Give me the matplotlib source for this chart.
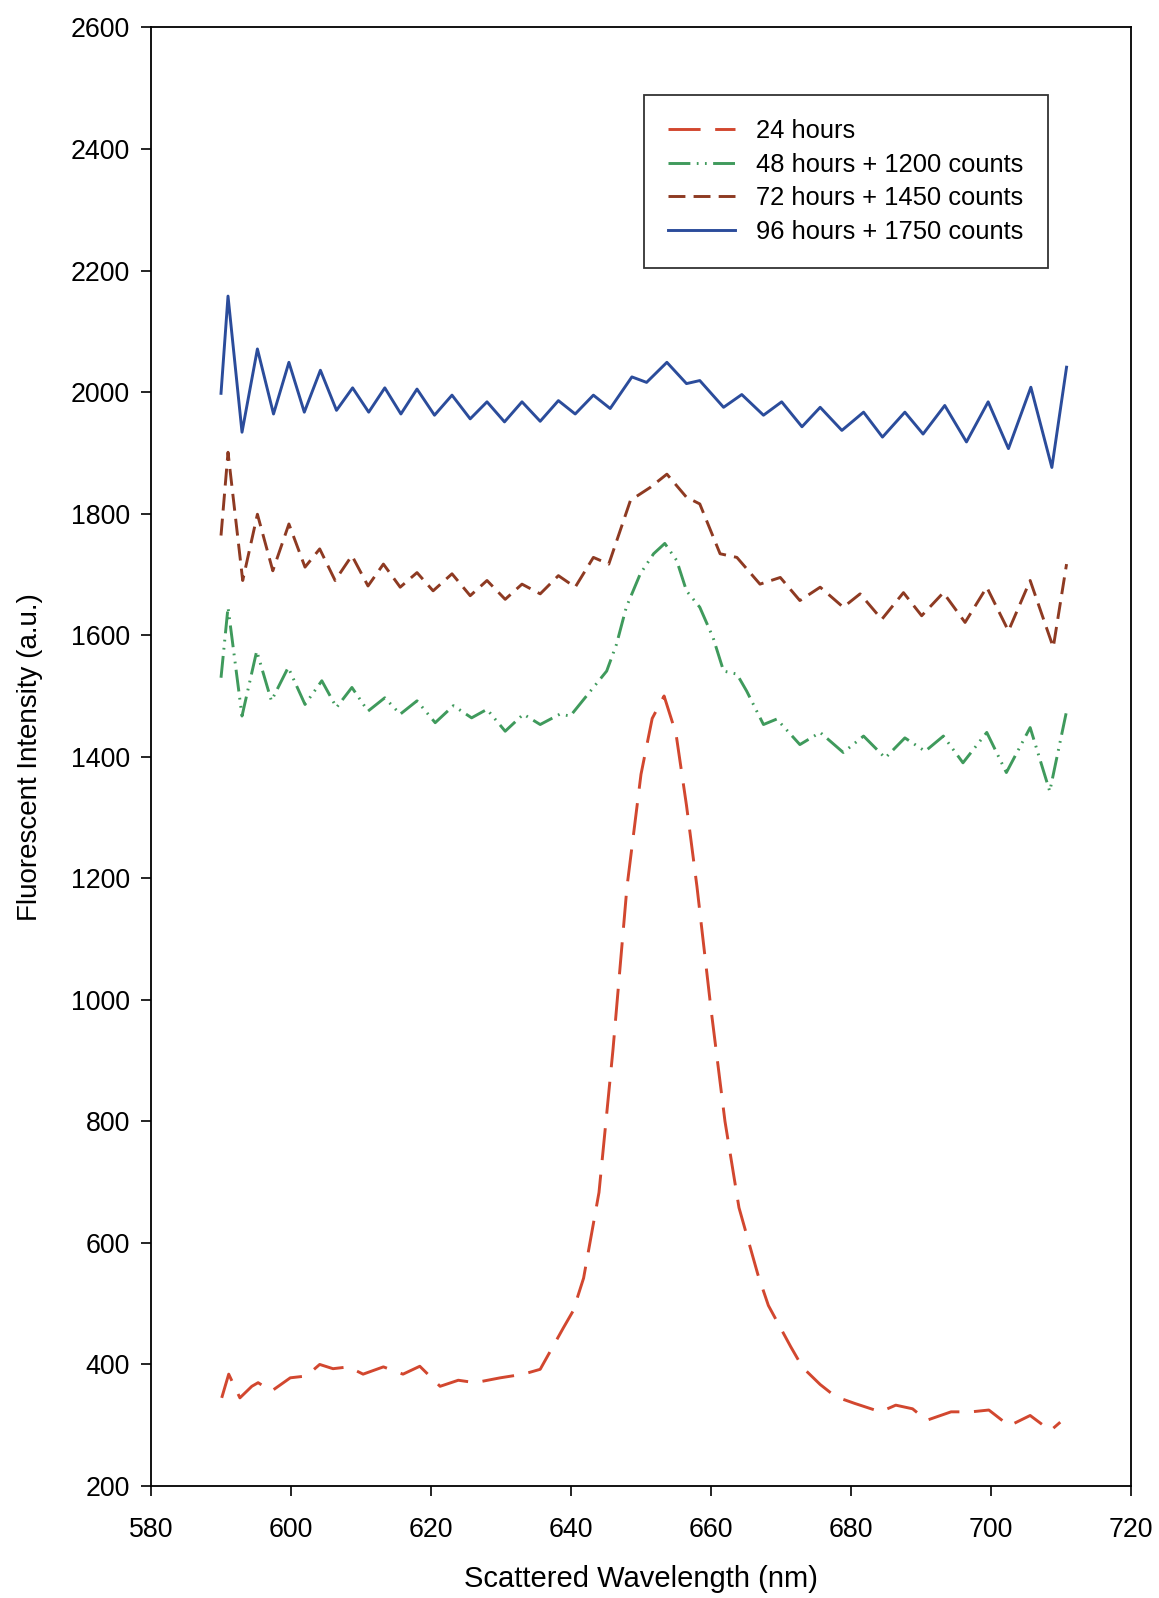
import matplotlib
matplotlib.use("Agg")
import matplotlib.pyplot as plt

plt.rcParams["font.family"] = ["Liberation Sans", "DejaVu Sans"]

# 24 hours
x_24 = [590.1, 591.1, 592.7, 594.4, 595.3, 597.2, 599.9, 602.2, 604.1, 606.0,
        608.2, 610.3, 613.2, 616.0, 618.4, 621.3, 623.9, 626.3, 629.9, 633.2,
        635.6, 638.9, 640.3, 641.8, 644.0, 646.0, 648.0, 650.0, 651.6, 653.3,
        655.0, 656.5, 658.0, 660.0, 662.0, 664.0, 666.7, 668.2, 671.4, 673.1,
        675.6, 677.8, 680.5, 684.2, 686.4, 688.8, 690.8, 694.3, 697.2, 699.7,
        702.6, 705.6, 708.5, 709.9]
y_24 = [345, 384, 345, 364, 370, 356, 378, 381, 400, 393,
        396, 384, 396, 384, 397, 364, 374, 370, 378, 384,
        392, 460, 488, 542, 683, 918, 1186, 1371, 1463, 1500,
        1438, 1320, 1186, 985, 800, 658, 548, 497, 429, 395,
        367, 347, 336, 322, 333, 327, 308, 322, 322, 325,
        299, 316, 291, 305]

# 48 hours + 1200 counts
x_48 = [590.0, 591.0, 593.0, 595.1, 597.2, 599.6, 602.0, 604.4, 606.5, 608.7,
        611.0, 613.4, 615.6, 618.0, 620.6, 623.2, 625.8, 628.0, 630.6, 633.2,
        635.6, 638.4, 639.9, 643.2, 645.1, 646.5, 647.9, 649.9, 651.8, 653.4,
        655.1, 656.5, 658.4, 660.3, 661.8, 663.7, 665.1, 667.5, 669.4, 672.7,
        675.6, 678.9, 681.8, 684.9, 687.7, 690.6, 693.2, 696.0, 699.4, 702.2,
        705.6, 708.4, 710.8]
y_48 = [1530, 1646, 1467, 1574, 1492, 1547, 1486, 1525, 1481, 1514,
        1475, 1497, 1470, 1492, 1456, 1484, 1464, 1478, 1442, 1470,
        1453, 1470, 1467, 1514, 1541, 1585, 1646, 1701, 1734, 1751,
        1723, 1673, 1646, 1596, 1541, 1536, 1508, 1453, 1462, 1420,
        1440, 1407, 1434, 1398, 1431, 1409, 1434, 1390, 1440, 1374,
        1448, 1343, 1475]

# 72 hours + 1450 counts
x_72 = [590.0, 591.0, 593.1, 595.2, 597.4, 599.7, 602.0, 604.1, 606.3, 608.7,
        611.0, 613.2, 615.6, 618.0, 620.3, 623.0, 625.6, 628.0, 630.6, 633.0,
        635.6, 638.2, 640.6, 643.2, 645.4, 648.5, 651.3, 653.7, 656.5, 658.4,
        661.3, 663.7, 667.0, 669.9, 672.7, 675.6, 678.9, 681.3, 684.4, 687.5,
        690.1, 693.2, 696.3, 699.4, 702.5, 705.6, 708.9, 710.8]
y_72 = [1764, 1901, 1690, 1799, 1706, 1783, 1712, 1742, 1690, 1731,
        1681, 1717, 1679, 1703, 1673, 1701, 1665, 1690, 1659, 1684,
        1668, 1698, 1679, 1728, 1717, 1822, 1843, 1865, 1827, 1816,
        1734, 1728, 1684, 1695, 1657, 1679, 1646, 1668, 1626, 1670,
        1632, 1670, 1621, 1679, 1607, 1690, 1580, 1717]

# 96 hours + 1750 counts
x_96 = [590.0, 591.0, 593.0, 595.2, 597.5, 599.7, 601.9, 604.2, 606.5, 608.8,
        611.1, 613.4, 615.7, 618.0, 620.5, 623.0, 625.6, 628.0, 630.5, 633.0,
        635.6, 638.2, 640.6, 643.2, 645.6, 648.7, 650.8, 653.7, 656.5, 658.4,
        661.8, 664.4, 667.5, 670.1, 673.0, 675.6, 678.7, 681.8, 684.5, 687.7,
        690.3, 693.4, 696.5, 699.6, 702.5, 705.7, 708.7, 710.8]
y_96 = [1998, 2158, 1934, 2071, 1964, 2049, 1967, 2036, 1970, 2007,
        1967, 2007, 1964, 2005, 1962, 1995, 1956, 1984, 1951, 1984,
        1952, 1986, 1964, 1995, 1973, 2025, 2016, 2049, 2014, 2019,
        1975, 1996, 1962, 1984, 1943, 1975, 1937, 1967, 1926, 1967,
        1931, 1978, 1918, 1984, 1907, 2008, 1876, 2041]

x_ticks = [580, 600, 620, 640, 660, 680, 700, 720]
y_ticks = [200, 400, 600, 800, 1000, 1200, 1400, 1600, 1800, 2000, 2200, 2400, 2600]

fig = plt.figure(figsize=(11.59, 15.98), dpi=100)
ax = fig.add_axes([0.1303, 0.0701, 0.8455, 0.9127])

style = dict(lw=2.1, solid_joinstyle="round", dash_joinstyle="round",
             dash_capstyle="butt")
ax.plot(x_24, y_24, color="#d2472f", linestyle=(0, (11, 5)),
        label="24 hours", **style)
ax.plot(x_48, y_48, color="#3f9a5c",
        linestyle=(0, (7.5, 2.2, 0.6, 2.2, 0.6, 2.2)),
        label="48 hours + 1200 counts", **style)
ax.plot(x_72, y_72, color="#8e3a22", linestyle=(0, (5.8, 2.8)),
        label="72 hours + 1450 counts", **style)
ax.plot(x_96, y_96, color="#2b4c9b", label="96 hours + 1750 counts", **style)

ax.set_xlim(580, 720)
ax.set_ylim(200, 2600)
ax.set_xticks(x_ticks)
ax.set_yticks(y_ticks)
ax.tick_params(axis="both", labelsize=19.3, direction="out", length=7,
               width=1.2)
ax.tick_params(axis="x", pad=15)
ax.tick_params(axis="y", pad=8)
for s in ax.spines.values():
    s.set_linewidth(1.3)

ax.set_xlabel("Scattered Wavelength (nm)", fontsize=21, labelpad=16)
ax.set_ylabel("Fluorescent Intensity (a.u.)", fontsize=20, labelpad=20)

leg = ax.legend(loc="upper left", bbox_to_anchor=(0.503, 0.954), fontsize=18.4,
                frameon=True, fancybox=False, edgecolor="black",
                handlelength=2.6, handletextpad=0.85, labelspacing=0.38,
                borderpad=0.95, borderaxespad=0)
leg.get_frame().set_linewidth(1.3)

fig.savefig("out.png", dpi=100)
